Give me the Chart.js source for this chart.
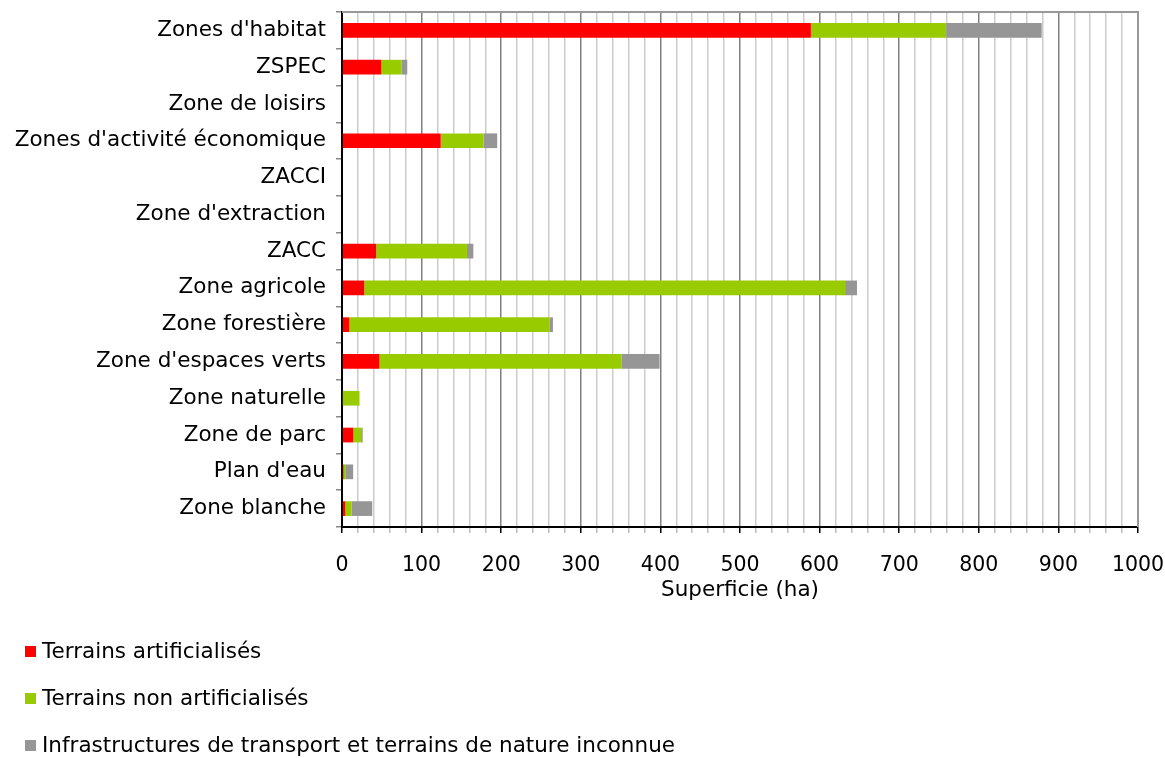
<!DOCTYPE html>
<html>
<head>
<meta charset="utf-8">
<script src="https://cdn.jsdelivr.net/npm/chart.js@4.4.1/dist/chart.umd.min.js"></script>
<style>
  html, body { margin: 0; padding: 0; background: #fff; }
  #wrap { width: 1165px; height: 758px; position: relative; }
</style>
</head>
<body>
<div id="wrap"><canvas id="Chart"></canvas></div>
<script>
const zones = [
  "Zones d'habitat", "ZSPEC", "Zone de loisirs", "Zones d'activité économique",
  "ZACCI", "Zone d'extraction", "ZACC", "Zone agricole", "Zone forestière",
  "Zone d'espaces verts", "Zone naturelle", "Zone de parc", "Plan d'eau", "Zone blanche"
];
const artificialises = [589, 49, 0, 124, 0, 0, 43, 28, 9, 47, 0, 14, 2, 4];
const nonArtificialises = [170, 26, 0, 54, 0, 0, 114, 604, 252, 304, 22, 10, 2, 8];
const infraInconnue = [120, 7, 0, 17, 0, 0, 8, 15, 4, 48, 0, 2, 10, 26];
const seriesNames = [
  "Terrains artificialisés",
  "Terrains non artificialisés",
  "Infrastructures de transport et terrains de nature inconnue"
];
const colors = ["#ff0000", "#99cc00", "#969696"];

const font = "'DejaVu Sans', Verdana, sans-serif";
Chart.defaults.font.family = font;
Chart.defaults.color = "#000";

// top + right frame lines
const frame = {
  id: "frame",
  afterDatasetsDraw(chart) {
    const { ctx, chartArea: a } = chart;
    ctx.save();
    ctx.strokeStyle = "#999";
    ctx.lineWidth = 2;
    ctx.beginPath();
    ctx.moveTo(a.left, a.top);
    ctx.lineTo(a.right, a.top);
    ctx.lineTo(a.right, a.bottom);
    ctx.stroke();
    ctx.restore();
  }
};

// vertical legend at the bottom left
const sideLegend = {
  id: "sideLegend",
  afterDraw(chart) {
    const ctx = chart.ctx;
    ctx.save();
    ctx.font = "21.5px " + font;
    ctx.textBaseline = "middle";
    chart.data.datasets.forEach((ds, i) => {
      const y = 652 + i * 47;
      ctx.fillStyle = ds.backgroundColor;
      ctx.fillRect(25, y - 6, 11, 11);
      ctx.fillStyle = "#000";
      ctx.fillText(ds.label, 42, y);
    });
    ctx.restore();
  }
};

const ctx = document.querySelector("#Chart").getContext("2d");
const chart = new Chart(ctx, {
  type: "bar",
  data: {
    labels: zones,
    datasets: [
      { label: seriesNames[0], data: artificialises, backgroundColor: colors[0] },
      { label: seriesNames[1], data: nonArtificialises, backgroundColor: colors[1] },
      { label: seriesNames[2], data: infraInconnue, backgroundColor: colors[2] }
    ]
  },
  options: {
    indexAxis: "y",
    responsive: true,
    maintainAspectRatio: false,
    animation: false,
    layout: { padding: { top: 12, right: 27, left: 0, bottom: 155 } },
    datasets: { bar: { barPercentage: 0.4, categoryPercentage: 1 } },
    plugins: { legend: { display: false }, tooltip: { enabled: false } },
    scales: {
      x: {
        stacked: true,
        min: 0,
        max: 1000,
        afterFit: s => { s.height = 76; s.paddingLeft = 0; s.paddingRight = 0; },
        ticks: {
          stepSize: 20,
          autoSkip: false,
          maxRotation: 0,
          padding: 20,
          font: { size: 20.5 },
          callback: v => (v % 100 === 0 ? v : "")
        },
        grid: {
          color: c => (c.tick && c.tick.value % 100 === 0 ? "#808080" : "#cccccc"),
          lineWidth: 1.5,
          tickLength: 6,
          tickColor: c => (c.tick && c.tick.value % 100 === 0 ? "#000" : "#bbb")
        },
        border: { color: "#000", width: 2 },
        title: {
          display: true,
          text: "Superficie (ha)",
          font: { size: 21.5 },
          padding: { top: 0, bottom: 0 }
        }
      },
      y: {
        stacked: true,
        afterFit: s => { s.width = 342; s.paddingTop = 0; s.paddingBottom = 0; },
        ticks: { padding: 10, font: { size: 21.5 } },
        grid: { drawOnChartArea: false, offset: true, tickLength: 6, tickColor: "#888", lineWidth: 1.5 },
        border: { color: "#000", width: 2 }
      }
    }
  },
  plugins: [frame, sideLegend]
});
</script>
</body>
</html>
